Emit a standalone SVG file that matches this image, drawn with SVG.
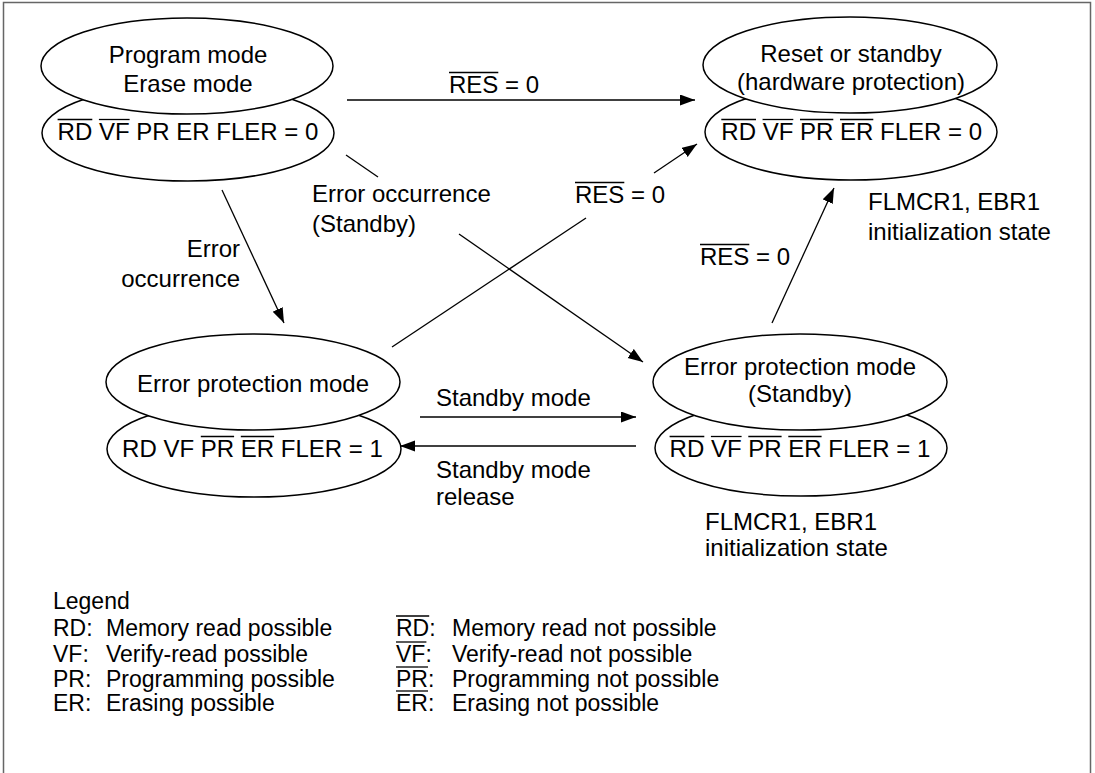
<svg xmlns="http://www.w3.org/2000/svg" width="1095" height="773" viewBox="0 0 1095 773">
<style>
text{font-family:"Liberation Sans",Arial,sans-serif;font-size:24px;fill:#000}
.c{text-anchor:middle}
.e{text-anchor:end}
.lg{font-size:23px}
.n ellipse{fill:#fff;stroke:#000;stroke-width:1.5}
.ol{stroke:#000;stroke-width:1.3}
.cn line{stroke:#000;stroke-width:1.3}
</style>
<defs>
<marker id="ah" markerWidth="16" markerHeight="12" refX="15" refY="5.5" orient="auto" markerUnits="userSpaceOnUse"><path d="M0,0 L15,5.5 L0,11 z" fill="#000"/></marker>
</defs>
<rect x="3.5" y="2.5" width="1087" height="820" fill="#fff" stroke="#666" stroke-width="1.5"/>

<g id="connectors" class="cn">
<line x1="347" y1="100" x2="695" y2="100" marker-end="url(#ah)"/>
<line x1="392" y1="347" x2="586" y2="218"/>
<line x1="654" y1="173" x2="697" y2="144" marker-end="url(#ah)"/>
<line x1="346" y1="155" x2="378" y2="177"/>
<line x1="459" y1="234" x2="643" y2="362" marker-end="url(#ah)"/>
<line x1="222" y1="190" x2="284" y2="323" marker-end="url(#ah)"/>
<line x1="772" y1="323" x2="834" y2="188" marker-end="url(#ah)"/>
<line x1="420" y1="417" x2="636" y2="417" marker-end="url(#ah)"/>
<line x1="636" y1="446" x2="400" y2="446" marker-end="url(#ah)"/>
</g>

<g id="labels">
<text x="449" y="93">RES = 0</text><line class="ol" x1="449" y1="72.5" x2="498.3" y2="72.5"/>
<text x="575" y="203">RES = 0</text><line class="ol" x1="575" y1="182.5" x2="624.3" y2="182.5"/>
<text x="700" y="265">RES = 0</text><line class="ol" x1="700" y1="244.5" x2="749.3" y2="244.5"/>
<text x="312" y="202">Error occurrence</text>
<text x="312" y="232">(Standby)</text>
<text class="e" x="240" y="257">Error</text>
<text class="e" x="240" y="287">occurrence</text>
<text x="868" y="210">FLMCR1, EBR1</text>
<text x="868" y="240">initialization state</text>
<text x="436" y="406">Standby mode</text>
<text x="436" y="478">Standby mode</text>
<text x="436" y="505">release</text>
<text x="705" y="530">FLMCR1, EBR1</text>
<text x="705" y="556">initialization state</text>
</g>

<g id="node-program" class="n">
<ellipse cx="188" cy="133" rx="146" ry="48"/>
<ellipse cx="187" cy="66" rx="146" ry="48"/>
<text class="c" x="188" y="63">Program mode</text>
<text class="c" x="188" y="92">Erase mode</text>
<text x="57.6" y="140">RD VF PR ER FLER = 0</text>
<line class="ol" x1="57.6" y1="119.5" x2="92.3" y2="119.5"/>
<line class="ol" x1="98.9" y1="119.5" x2="129.6" y2="119.5"/>
</g>

<g id="node-reset" class="n">
<ellipse cx="851" cy="132" rx="146" ry="48"/>
<ellipse cx="850" cy="65" rx="147" ry="48"/>
<text class="c" x="851" y="62">Reset or standby</text>
<text class="c" x="851" y="90">(hardware protection)</text>
<text x="721.3" y="140">RD VF PR ER FLER = 0</text>
<line class="ol" x1="721.3" y1="119.5" x2="756" y2="119.5"/>
<line class="ol" x1="762.6" y1="119.5" x2="793.3" y2="119.5"/>
<line class="ol" x1="800" y1="119.5" x2="833.3" y2="119.5"/>
<line class="ol" x1="840" y1="119.5" x2="873.3" y2="119.5"/>
</g>

<g id="node-errprot" class="n">
<ellipse cx="254" cy="449" rx="147" ry="48"/>
<ellipse cx="253" cy="382" rx="147" ry="48"/>
<text class="c" x="253" y="392">Error protection mode</text>
<text x="122.1" y="457">RD VF PR ER FLER = 1</text>
<line class="ol" x1="200.8" y1="436.5" x2="234.1" y2="436.5"/>
<line class="ol" x1="240.8" y1="436.5" x2="274.1" y2="436.5"/>
</g>

<g id="node-errstandby" class="n">
<ellipse cx="801" cy="448" rx="146" ry="48"/>
<ellipse cx="800" cy="382" rx="147" ry="48"/>
<text class="c" x="800" y="375">Error protection mode</text>
<text class="c" x="800" y="402">(Standby)</text>
<text x="669.6" y="457">RD VF PR ER FLER = 1</text>
<line class="ol" x1="669.6" y1="436.5" x2="704.3" y2="436.5"/>
<line class="ol" x1="710.9" y1="436.5" x2="741.6" y2="436.5"/>
<line class="ol" x1="748.3" y1="436.5" x2="781.6" y2="436.5"/>
<line class="ol" x1="788.3" y1="436.5" x2="821.6" y2="436.5"/>
</g>

<g id="legend">
<text class="lg" x="53" y="609">Legend</text>
<text class="lg" x="53" y="636">RD:</text><text class="lg" x="106" y="636">Memory read possible</text>
<text class="lg" x="53" y="662">VF:</text><text class="lg" x="106" y="662">Verify-read possible</text>
<text class="lg" x="53" y="687">PR:</text><text class="lg" x="106" y="687">Programming possible</text>
<text class="lg" x="53" y="711">ER:</text><text class="lg" x="106" y="711">Erasing possible</text>
<text class="lg" x="396" y="636">RD:</text><text class="lg" x="452" y="636">Memory read not possible</text>
<text class="lg" x="396" y="662">VF:</text><text class="lg" x="452" y="662">Verify-read not possible</text>
<text class="lg" x="396" y="687">PR:</text><text class="lg" x="452" y="687">Programming not possible</text>
<text class="lg" x="396" y="711">ER:</text><text class="lg" x="452" y="711">Erasing not possible</text>
<line class="ol" x1="396" y1="616" x2="429.2" y2="616"/>
<line class="ol" x1="396" y1="642" x2="426.4" y2="642"/>
<line class="ol" x1="396" y1="667" x2="428" y2="667"/>
<line class="ol" x1="396" y1="691" x2="428" y2="691"/>
</g>
</svg>
